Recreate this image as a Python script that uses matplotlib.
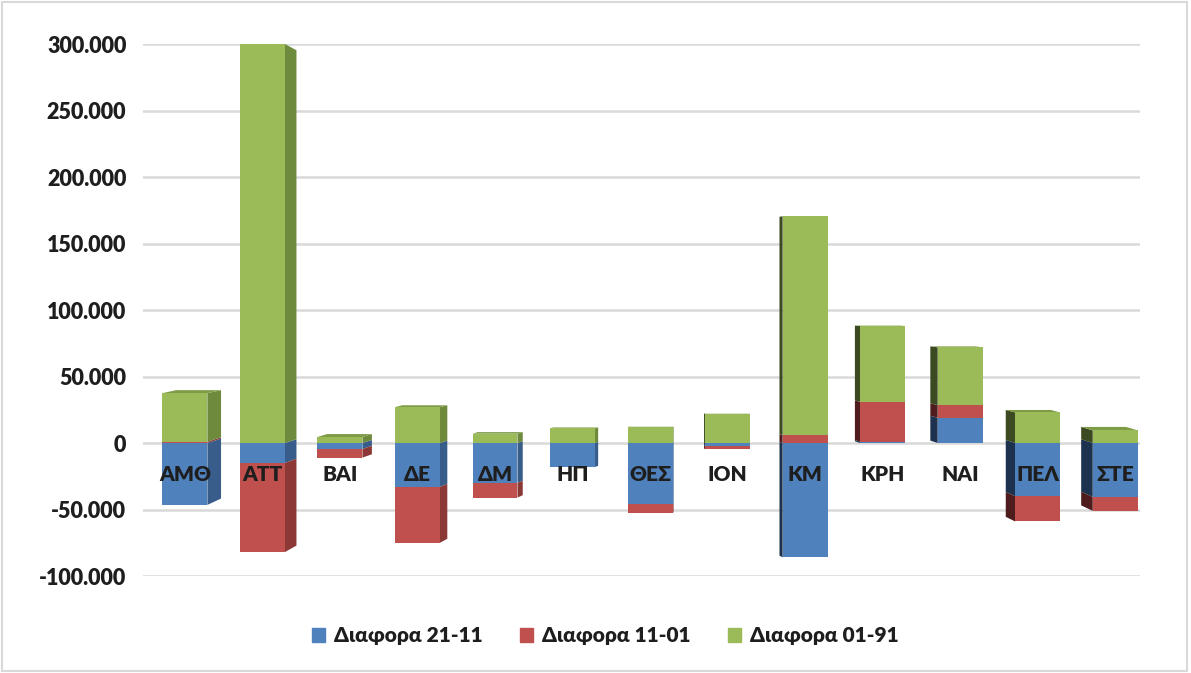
import numpy as np
import matplotlib
matplotlib.use("Agg")
import matplotlib.pyplot as plt
from matplotlib.patches import Polygon, Rectangle
from matplotlib.ticker import FuncFormatter

plt.rcParams['font.family'] = ['Lato', 'DejaVu Sans']
plt.rcParams['font.weight'] = 'heavy'

regions = ["ΑΜΘ", "ΑΤΤ", "ΒΑΙ", "ΔΕ", "ΔΜ", "ΗΠ", "ΘΕΣ", "ΙΟΝ", "ΚΜ", "ΚΡΗ", "ΝΑΙ", "ΠΕΛ", "ΣΤΕ"]
diff_21_11 = [-46500, -15000, -4500, -33000, -30000, -18000, -46000, -2000, -86000, 1000, 19000, -40000, -40500]
diff_11_01 = [1000, -67000, -6500, -42000, -11000, 0, -6500, -2500, 6000, 30000, 9500, -19000, -10500]
diff_01_91 = [36500, 300000, 4500, 27000, 7000, 11000, 12000, 22000, 164500, 57000, 43500, 23000, 9500]
series_names = ["Διαφορα 21-11", "Διαφορα 11-01", "Διαφορα 01-91"]

front_colors = ["#4F81BD", "#C0504D", "#9BBB59"]
right_side = ["#385D8A", "#8C3836", "#6E8A3C"]
left_side = ["#1C324E", "#4E1C1C", "#3B4A20"]
top_colors = ["#6A93C6", "#B9504C", "#7E9C45"]

fig = plt.figure(figsize=(11.91, 6.73), dpi=100)
ax = fig.add_axes([0.1201, 0.1441, 0.8371, 0.7905])
xmin, xmax = -0.54, 12.32
ax.set_xlim(xmin, xmax)
ax.set_ylim(-100000, 300000)

# fake 3d: side depth in px, back edges pulled towards a vanishing level
px_per_x = 0.8371 * 1191 / (xmax - xmin)
vanish = 113000
k = 0.00217
bar_w = 0.58

x = np.arange(len(regions))
depth = 2.1 * (6.5 - x)

pos_bottom = np.zeros(len(regions))
neg_bottom = np.zeros(len(regions))
top_val = np.zeros(len(regions))
top_series = np.zeros(len(regions), dtype=int)

for s, vals in enumerate([diff_21_11, diff_11_01, diff_01_91]):
    vals = np.array(vals, dtype=float)
    bottoms = np.where(vals >= 0, pos_bottom, neg_bottom)
    ax.bar(x, vals, bar_w, bottom=bottoms, color=front_colors[s], zorder=3, linewidth=0)
    for i in range(len(regions)):
        if vals[i] == 0:
            continue
        y0, y1 = sorted([bottoms[i], bottoms[i] + vals[i]])
        d = depth[i]
        sgn = 1 if d > 0 else -1
        edge = x[i] + sgn * bar_w / 2
        dx = d / px_per_x
        y0b = y0 + (vanish - y0) * k * abs(d)
        y1b = y1 + (vanish - y1) * k * abs(d)
        col = right_side[s] if d > 0 else left_side[s]
        ax.add_patch(Polygon([(edge, y0), (edge + dx, y0b), (edge + dx, y1b), (edge, y1)],
                             closed=True, color=col, lw=0, zorder=2))
        if vals[i] > 0:
            top_val[i] = bottoms[i] + vals[i]
            top_series[i] = s
    pos_bottom = pos_bottom + np.where(vals >= 0, vals, 0)
    neg_bottom = neg_bottom + np.where(vals < 0, vals, 0)

# top faces where we look down on the bar
for i in range(len(regions)):
    yt = top_val[i]
    if yt <= 0 or yt >= vanish:
        continue
    d = depth[i]
    dx = d / px_per_x
    ytb = yt + (vanish - yt) * k * abs(d)
    xl, xr = x[i] - bar_w / 2, x[i] + bar_w / 2
    ax.add_patch(Polygon([(xl, yt), (xr, yt), (xr + dx, ytb), (xl + dx, ytb)],
                         closed=True, color=top_colors[top_series[i]], lw=0, zorder=2.5))

for i, name in enumerate(regions):
    ax.text(x[i], -24000, name, ha="center", va="center", fontsize=15,
            color="#1E1E1E", zorder=5)

ax.set_yticks(np.arange(-100000, 300001, 50000))
ax.yaxis.set_major_formatter(FuncFormatter(lambda v, _: f"{int(v):,}".replace(",", ".")))
ax.yaxis.grid(True, color="#D9D9D9", linewidth=1.8, zorder=0)
ax.set_axisbelow(True)
ax.set_xticks([])
ax.tick_params(axis="y", length=0, pad=12, labelsize=15.5, labelcolor="#1E1E1E")
for sp in ax.spines.values():
    sp.set_visible(False)

handles = [Rectangle((0, 0), 1, 1, color=c) for c in front_colors]
fig.legend(handles, series_names, loc="center", bbox_to_anchor=(0.508, 0.055), ncol=3,
           frameon=False, fontsize=15, handlelength=0.65, handleheight=0.65,
           handletextpad=0.4, columnspacing=1.8, labelcolor="#1E1E1E")

fig.patches.append(Rectangle((0.002, 0.003), 0.995, 0.994, transform=fig.transFigure,
                             fill=False, edgecolor="#D9D9D9", linewidth=1.5))

fig.savefig("out.png", dpi=100)
